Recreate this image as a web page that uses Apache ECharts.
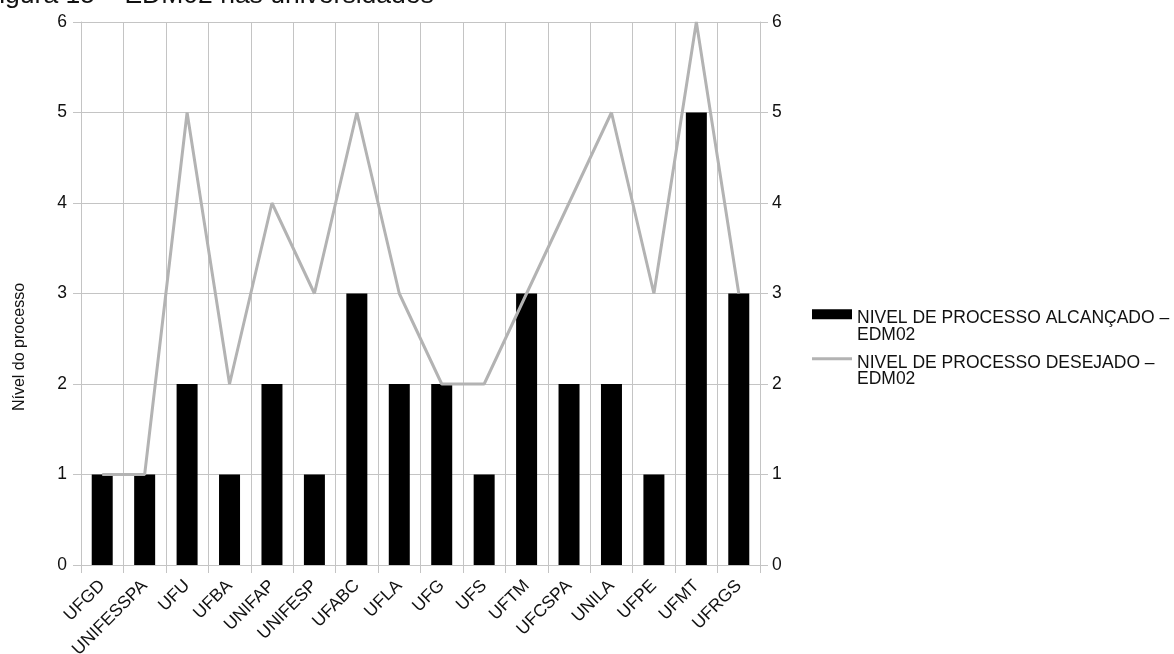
<!DOCTYPE html>
<html>
<head>
<meta charset="utf-8">
<title>EDM02 nas universidades</title>
<script src="https://cdn.jsdelivr.net/npm/echarts@6/dist/echarts.min.js"></script>
<style>
  html, body { margin: 0; padding: 0; background: #ffffff; }
  #chart { width: 1174px; height: 654px; }
</style>
</head>
<body>
<div id="chart"></div>
<script>
// Universities on the category axis
const categories = ['UFGD', 'UNIFESSPA', 'UFU', 'UFBA', 'UNIFAP', 'UNIFESP', 'UFABC', 'UFLA',
  'UFG', 'UFS', 'UFTM', 'UFCSPA', 'UNILA', 'UFPE', 'UFMT', 'UFRGS'];

// Process level reached (bars)
const nivelAlcancado = [1, 1, 2, 1, 2, 1, 3, 2, 2, 1, 3, 2, 2, 1, 5, 3];

// Process level desired (line)
const nivelDesejado = [1, 1, 5, 2, 4, 3, 5, 3, 2, 2, 3, 4, 5, 3, 6, 3];

const seriesNames = ['NIVEL DE PROCESSO ALCANÇADO –\nEDM02', 'NIVEL DE PROCESSO DESEJADO –\nEDM02'];
const titleText = 'Figura 15 – EDM02 nas universidades';
const axisTitle = 'Nível do processo';

const FONT = '"Liberation Sans", Arial, sans-serif';
const GRID = '#c4c4c4';
const LINE_GRAY = '#b3b3b3';

const chart = echarts.init(document.getElementById('chart'), null, { renderer: 'canvas' });

const valueAxis = (pos, margin, split) => ({
  type: 'value',
  position: pos,
  min: 0,
  max: 6,
  interval: 1,
  axisLine: { show: true, lineStyle: { color: GRID, width: 1 } },
  axisTick: { show: true, length: 8, lineStyle: { color: GRID, width: 1 } },
  splitLine: { show: split, lineStyle: { color: GRID, width: 1 } },
  axisLabel: { margin: margin, fontSize: 17.5, color: '#111', fontFamily: FONT }
});

// Legend entries: the first text line sits level with the key, the second hangs below it
const legendFormatter = (name) => '{pad| }\n' + name.split('\n').map(s => '{t|' + s + '}').join('\n');
const legendText = {
  fontFamily: FONT,
  rich: {
    pad: { fontSize: 1, lineHeight: 24.5 },
    t: { fontSize: 17.5, lineHeight: 16.5, color: '#111', fontFamily: FONT }
  }
};

chart.setOption({
  animation: false,
  backgroundColor: '#ffffff',
  grid: { left: 81, right: 414, top: 22, bottom: 89, containLabel: false, outerBoundsMode: 'none' },
  graphic: [
    {
      type: 'text',
      left: -17,
      top: -18,
      style: { text: titleText, fontSize: 26.5, fontFamily: FONT, fill: '#111' }
    },
    {
      type: 'text',
      x: 20,
      y: 347,
      rotation: Math.PI / 2,
      style: {
        text: axisTitle, fontSize: 16, fontFamily: FONT, fill: '#111',
        align: 'center', verticalAlign: 'middle'
      }
    }
  ],
  legend: [
    {
      data: [{ name: seriesNames[0], icon: 'rect' }],
      orient: 'vertical',
      left: 812,
      top: 297.25,
      padding: 0,
      itemWidth: 40,
      itemHeight: 10,
      itemGap: 5,
      formatter: legendFormatter,
      textStyle: legendText
    },
    {
      data: [{ name: seriesNames[1], icon: 'rect', itemStyle: { color: LINE_GRAY } }],
      orient: 'vertical',
      left: 812,
      top: 341.75,
      padding: 0,
      itemWidth: 40,
      itemHeight: 3,
      itemGap: 5,
      formatter: legendFormatter,
      textStyle: legendText
    }
  ],
  xAxis: {
    type: 'category',
    data: categories,
    boundaryGap: true,
    axisLine: { show: true, lineStyle: { color: GRID, width: 1 } },
    axisTick: { show: true, length: 8, lineStyle: { color: GRID, width: 1 } },
    splitLine: { show: true, lineStyle: { color: GRID, width: 1 } },
    axisLabel: {
      interval: 0, rotate: 45, margin: 18,
      fontSize: 17.5, color: '#111', fontFamily: FONT
    }
  },
  yAxis: [valueAxis('left', 14, true), valueAxis('right', 12, false)],
  series: [
    {
      name: seriesNames[0],
      type: 'bar',
      data: nivelAlcancado,
      barWidth: 21,
      itemStyle: { color: '#000000' },
      z: 2
    },
    {
      name: seriesNames[1],
      type: 'line',
      data: nivelDesejado,
      symbol: 'none',
      lineStyle: { color: LINE_GRAY, width: 3 },
      itemStyle: { color: LINE_GRAY },
      z: 3
    }
  ]
});
</script>
</body>
</html>
